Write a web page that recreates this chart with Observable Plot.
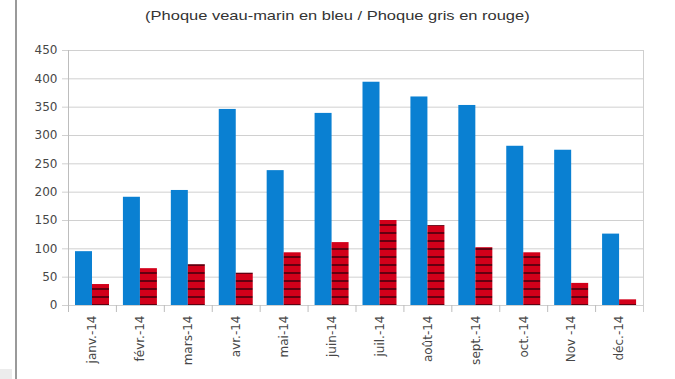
<!DOCTYPE html>
<html>
<head>
<meta charset="utf-8">
<script src="https://cdn.jsdelivr.net/npm/d3@7"></script>
<script src="https://cdn.jsdelivr.net/npm/@observablehq/plot@0.6"></script>
<style>
  html, body { margin: 0; padding: 0; background: #fff; }
  #page { position: relative; width: 675px; height: 379px; overflow: hidden; background: #fff; }
  #edge { position: absolute; left: 15px; top: 0; width: 2px; height: 379px; background: #9a9a9a; z-index: 2; }
  #corner { position: absolute; left: 0; top: 369px; width: 12px; height: 10px; background: #ececec; z-index: 2; }
  #title { position: absolute; left: 0; top: 8px; width: 675px; text-align: center;
           font-family: "Liberation Sans", Arial, sans-serif; font-size: 13.5px; color: #333;
           transform: scaleX(1.22); transform-origin: 338px 0; }
  #chart { position: absolute; left: 0; top: 35px; z-index: 1; }
</style>
</head>
<body>
<div id="page">
  <div id="chart"></div>
  <div id="edge"></div>
  <div id="corner"></div>
  <div id="title">(Phoque veau-marin en bleu / Phoque gris en rouge)</div>
</div>
<script>
// Monthly seal counts, 2014
const months = ["janv.-14", "févr.-14", "mars-14", "avr.-14", "mai-14", "juin-14",
                "juil.-14", "août-14", "sept.-14", "oct.-14", "Nov -14", "déc.-14"];
const veauMarin = [95, 191, 203, 346, 238, 339, 394, 368, 353, 281, 274, 126];
const gris = [37, 65, 72, 57, 93, 111, 150, 141, 102, 93, 39, 10];
const yTicks = [0, 50, 100, 150, 200, 250, 300, 350, 400, 450];

const rows = months.map((m, i) => ({month: m, veau: veauMarin[i], gris: gris[i]}));

const W = 675, H = 344, mL = 68, mR = 32, mT = 15, mB = 74;
const bw = (W - mL - mR) / months.length;

// Red bars get a horizontal-stripe pattern fill
function hatched(index, scales, values, dims, context, next) {
  const g = next(index, scales, values, dims, context);
  const ns = "http://www.w3.org/2000/svg";
  const defs = document.createElementNS(ns, "defs");
  const pat = document.createElementNS(ns, "pattern");
  pat.setAttribute("id", "stripes");
  pat.setAttribute("patternUnits", "userSpaceOnUse");
  pat.setAttribute("width", 8);
  pat.setAttribute("height", 8);
  const bg = document.createElementNS(ns, "rect");
  bg.setAttribute("width", 8); bg.setAttribute("height", 8); bg.setAttribute("fill", "#d2001a");
  const ln = document.createElementNS(ns, "rect");
  ln.setAttribute("y", 5); ln.setAttribute("width", 8); ln.setAttribute("height", 2); ln.setAttribute("fill", "#620010");
  pat.appendChild(bg); pat.appendChild(ln);
  defs.appendChild(pat);
  g.insertBefore(defs, g.firstChild);
  g.setAttribute("fill", "url(#stripes)");
  return g;
}

const chart = Plot.plot({
  width: W, height: H,
  marginTop: mT, marginLeft: mL, marginRight: mR, marginBottom: mB,
  style: {fontFamily: "DejaVu Sans, sans-serif", fontSize: "12px", color: "#474747", background: "white"},
  x: {domain: months, padding: 0, round: false, label: null},
  y: {domain: [0, 450], label: null},
  marks: [
    Plot.ruleY(yTicks, {y: d => d, stroke: "#d0d0d0", insetLeft: -6}),
    Plot.ruleX(months, {x: d => d, dx: -bw / 2, y1: 0, y2: 0, insetBottom: -7, stroke: "#bdbdbd"}),
    Plot.ruleX([months[0]], {x: d => d, dx: -bw / 2, y1: 450, y2: 0, insetBottom: -7, stroke: "#bdbdbd"}),
    Plot.ruleX([months[months.length - 1]], {x: d => d, dx: bw / 2, y1: 450, y2: 0, insetBottom: -7, stroke: "#cfcfcf"}),
    Plot.barY(rows, {x: "month", y: "veau", fill: "#0a80d2", insetLeft: 7, insetRight: bw - 24}),
    Plot.barY(rows, {x: "month", y: "gris", fill: "#d2001a", insetLeft: 24, insetRight: bw - 41, render: hatched}),
    Plot.axisY({ticks: yTicks, tickSize: 0, tickPadding: 11, label: null}),
    Plot.axisX({tickSize: 0, tickRotate: -90, tickPadding: 10, label: null})
  ]
});
document.getElementById("chart").appendChild(chart);
</script>
</body>
</html>
